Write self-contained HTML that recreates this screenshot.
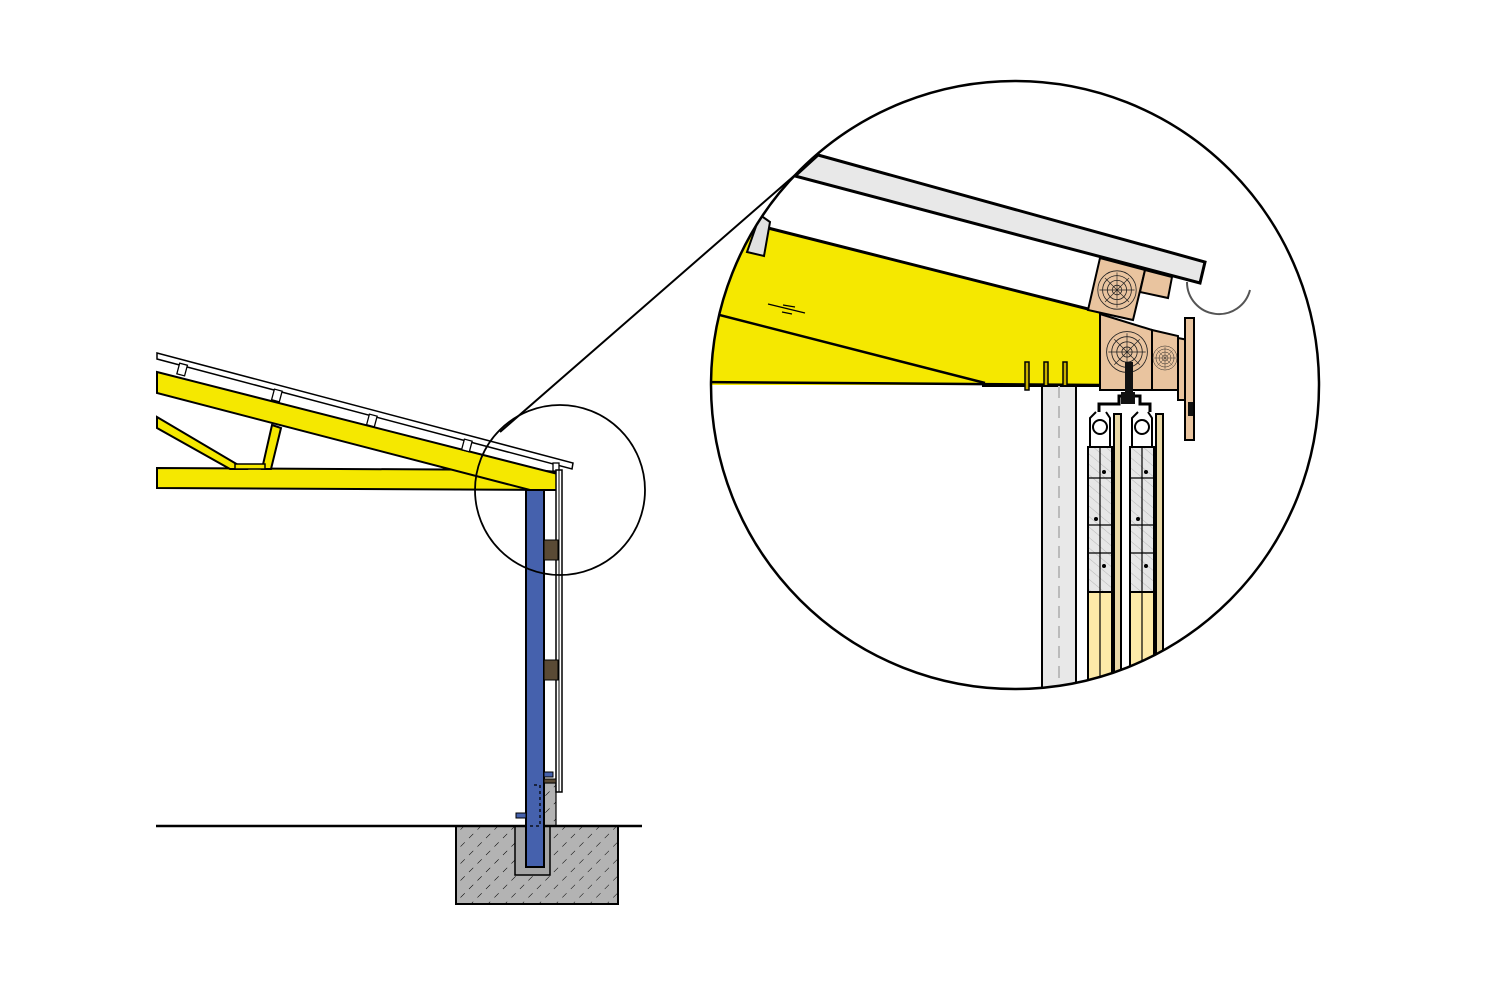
<!DOCTYPE html>
<html><head><meta charset="utf-8"><style>html,body{margin:0;padding:0;background:#fff}svg{display:block}</style></head>
<body>
<svg width="1500" height="1000" viewBox="0 0 1500 1000" xmlns="http://www.w3.org/2000/svg">
<defs>
<pattern id="hatch" width="12" height="12" patternUnits="userSpaceOnUse" patternTransform="rotate(45)">
<rect width="12" height="12" fill="#b3b3b3"/><line x1="0" y1="3" x2="0" y2="9" stroke="#000" stroke-width="1"/>
</pattern>
<pattern id="glass" width="8" height="8" patternUnits="userSpaceOnUse" patternTransform="rotate(-50)">
<rect width="8" height="8" fill="#e6e6e6"/><line x1="0" y1="0" x2="0" y2="8" stroke="#aaa" stroke-width="0.8"/>
</pattern>
<clipPath id="cc"><circle cx="1015" cy="385" r="304"/></clipPath>
<g id="ring">
<circle r="6" fill="none" stroke="#222" stroke-width="1"/><circle r="12" fill="none" stroke="#222" stroke-width="1"/><circle r="18" fill="none" stroke="#222" stroke-width="1"/><circle r="24" fill="none" stroke="#222" stroke-width="1"/>
<path d="M-22 0H22M0 -22V22M-15 -15L15 15M-15 15L15 -15" stroke="#222" stroke-width="0.8"/>
</g>
</defs>

<!-- LEFT DRAWING -->
<polygon points="157,468 535,470 558,472 558,490 157,488" fill="#f5e800" stroke="#000" stroke-width="2"/>
<polygon points="157,417 157,428 230,469 245,469" fill="#f5e800" stroke="#000" stroke-width="2"/>
<polygon points="272,425 281,428 271,469 262,469" fill="#f5e800" stroke="#000" stroke-width="2"/>
<rect x="235" y="464" width="30" height="5" fill="#f5e800" stroke="#000" stroke-width="1.5"/>
<polygon points="157,372 558,474 558,490 530,490 157,393" fill="#f5e800" stroke="#000" stroke-width="2"/>
<polygon points="157,353 573,463 572,469 157,359" fill="#fff" stroke="#000" stroke-width="1.5"/>
<g fill="#fff" stroke="#000" stroke-width="1.3">
<rect x="178" y="364" width="8" height="11" transform="rotate(15 182 370)"/>
<rect x="273" y="390" width="8" height="11" transform="rotate(15 277 395)"/>
<rect x="368" y="415" width="8" height="11" transform="rotate(15 372 420)"/>
<rect x="463" y="440" width="8" height="11" transform="rotate(15 467 445)"/>
<rect x="553" y="463" width="6" height="8"/>
</g>
<rect x="456" y="826" width="162" height="78" fill="url(#hatch)" stroke="#000" stroke-width="2"/>
<rect x="515" y="826" width="35" height="49" fill="#a6a6a6" stroke="#000" stroke-width="1.5"/>
<rect x="544" y="783" width="12" height="43" fill="url(#hatch)" stroke="#000" stroke-width="1.2"/>
<line x1="156" y1="826" x2="642" y2="826" stroke="#000" stroke-width="2.5"/>
<rect x="526" y="490" width="18" height="377" fill="#4561ad" stroke="#000" stroke-width="2"/>
<path d="M534 785 H540 V826 H530" fill="none" stroke="#000" stroke-width="1.3" stroke-dasharray="3,3"/>
<rect x="516" y="813" width="10" height="5" fill="#4561ad" stroke="#000" stroke-width="1"/>
<rect x="544" y="772" width="9" height="5" fill="#4561ad" stroke="#000" stroke-width="1"/>
<rect x="556" y="470" width="6" height="322" fill="#fff" stroke="#000" stroke-width="1.5"/>
<line x1="559" y1="470" x2="559" y2="792" stroke="#000" stroke-width="1"/>
<rect x="544" y="540" width="14" height="20" fill="#5a4a35" stroke="#000"/>
<rect x="544" y="660" width="14" height="20" fill="#5a4a35" stroke="#000"/>
<rect x="544" y="779" width="12" height="4" fill="#5a4a35" stroke="#000"/>
<circle cx="560" cy="490" r="85" fill="none" stroke="#000" stroke-width="1.8"/>
<line x1="500" y1="432" x2="818" y2="155" stroke="#000" stroke-width="2"/>

<!-- DETAIL -->
<g clip-path="url(#cc)">
<polygon points="700,215 768,228 1100,312 1100,385 700,385" fill="#f5e800"/>
<line x1="768" y1="228" x2="1100" y2="312" stroke="#000" stroke-width="3"/>
<line x1="700" y1="310" x2="985" y2="383" stroke="#000" stroke-width="2.5"/>
<line x1="700" y1="382" x2="1100" y2="385" stroke="#000" stroke-width="2.5"/>
<line x1="982" y1="386" x2="1100" y2="386" stroke="#000" stroke-width="2"/>
<g stroke="#000" stroke-width="1.3"><line x1="768" y1="304" x2="805" y2="313"/><line x1="783" y1="305" x2="795" y2="307"/><line x1="782" y1="312" x2="792" y2="314"/></g>
<polygon points="818,155 1205,262 1200,283 795,176" fill="#e8e8e8" stroke="#000" stroke-width="3"/>
<polygon points="760,215 770,222 764,256 747,252" fill="#e0e0e0" stroke="#000" stroke-width="2"/>
<g stroke="#000" stroke-width="2" fill="#e9c49f">
<polygon points="1100,258 1145,270 1133,320 1088,310"/>
<polygon points="1145,270 1172,277 1168,298 1140,292"/>
<polygon points="1100,314 1152,330 1152,390 1100,390"/>
<polygon points="1152,330 1178,336 1178,390 1152,390"/>
<polygon points="1178,338 1188,340 1188,400 1178,400"/>
<rect x="1185" y="318" width="9" height="122"/>
</g>
<g clip-path="none">
<use href="#ring" transform="translate(1117 290) scale(0.8)"/>
<use href="#ring" transform="translate(1127 352) scale(0.85)"/>
<use href="#ring" transform="translate(1165 358) scale(0.5)"/>
</g>
<rect x="1125" y="362" width="8" height="30" fill="#111"/>
<rect x="1188" y="402" width="5" height="14" fill="#111"/>
<path d="M1187 282 A32 32 0 0 0 1250 290" fill="none" stroke="#555" stroke-width="2"/>
<g stroke="#000" stroke-width="1.5" fill="#c9b000">
<rect x="1025" y="362" width="4" height="28"/><rect x="1044" y="362" width="4" height="28"/><rect x="1063" y="362" width="4" height="28"/>
</g>
<rect x="1042" y="386" width="34" height="310" fill="#e8e8e8" stroke="#000" stroke-width="2"/>
<line x1="1059" y1="386" x2="1059" y2="696" stroke="#bbb" stroke-width="2" stroke-dasharray="12,8"/>
<path d="M1099 412 V404 H1119 V396 H1140 V404 H1150 V412" fill="none" stroke="#000" stroke-width="3"/>
<rect x="1121" y="392" width="14" height="12" fill="#111"/>
<g stroke="#000" stroke-width="2">
<path d="M1090 447 V418 L1096 412 M1110 447 V418 L1106 412" fill="none"/>
<path d="M1132 447 V418 L1138 412 M1152 447 V418 L1148 412" fill="none"/>
<circle cx="1100" cy="427" r="7" fill="#fff"/><circle cx="1142" cy="427" r="7" fill="#fff"/>
<rect x="1088" y="447" width="24" height="145" fill="url(#glass)"/>
<rect x="1130" y="447" width="24" height="145" fill="url(#glass)"/>
<rect x="1088" y="592" width="24" height="110" fill="#fdeaa8"/>
<rect x="1130" y="592" width="24" height="110" fill="#fdeaa8"/>
<rect x="1114" y="414" width="7" height="290" fill="#e9d8a6"/>
<rect x="1156" y="414" width="7" height="290" fill="#e9d8a6"/>
</g>
<g stroke="#000" stroke-width="1.2">
<line x1="1100" y1="447" x2="1100" y2="700"/><line x1="1142" y1="447" x2="1142" y2="700"/>
<line x1="1088" y1="478" x2="1112" y2="478"/><line x1="1088" y1="525" x2="1112" y2="525"/><line x1="1088" y1="553" x2="1112" y2="553"/>
<line x1="1130" y1="478" x2="1154" y2="478"/><line x1="1130" y1="525" x2="1154" y2="525"/><line x1="1130" y1="553" x2="1154" y2="553"/>
</g>
<g fill="#000"><circle cx="1104" cy="472" r="2"/><circle cx="1096" cy="519" r="2"/><circle cx="1104" cy="566" r="2"/>
<circle cx="1146" cy="472" r="2"/><circle cx="1138" cy="519" r="2"/><circle cx="1146" cy="566" r="2"/></g>
</g>
<circle cx="1015" cy="385" r="304" fill="none" stroke="#000" stroke-width="2.5"/>
</svg>
</body></html>
